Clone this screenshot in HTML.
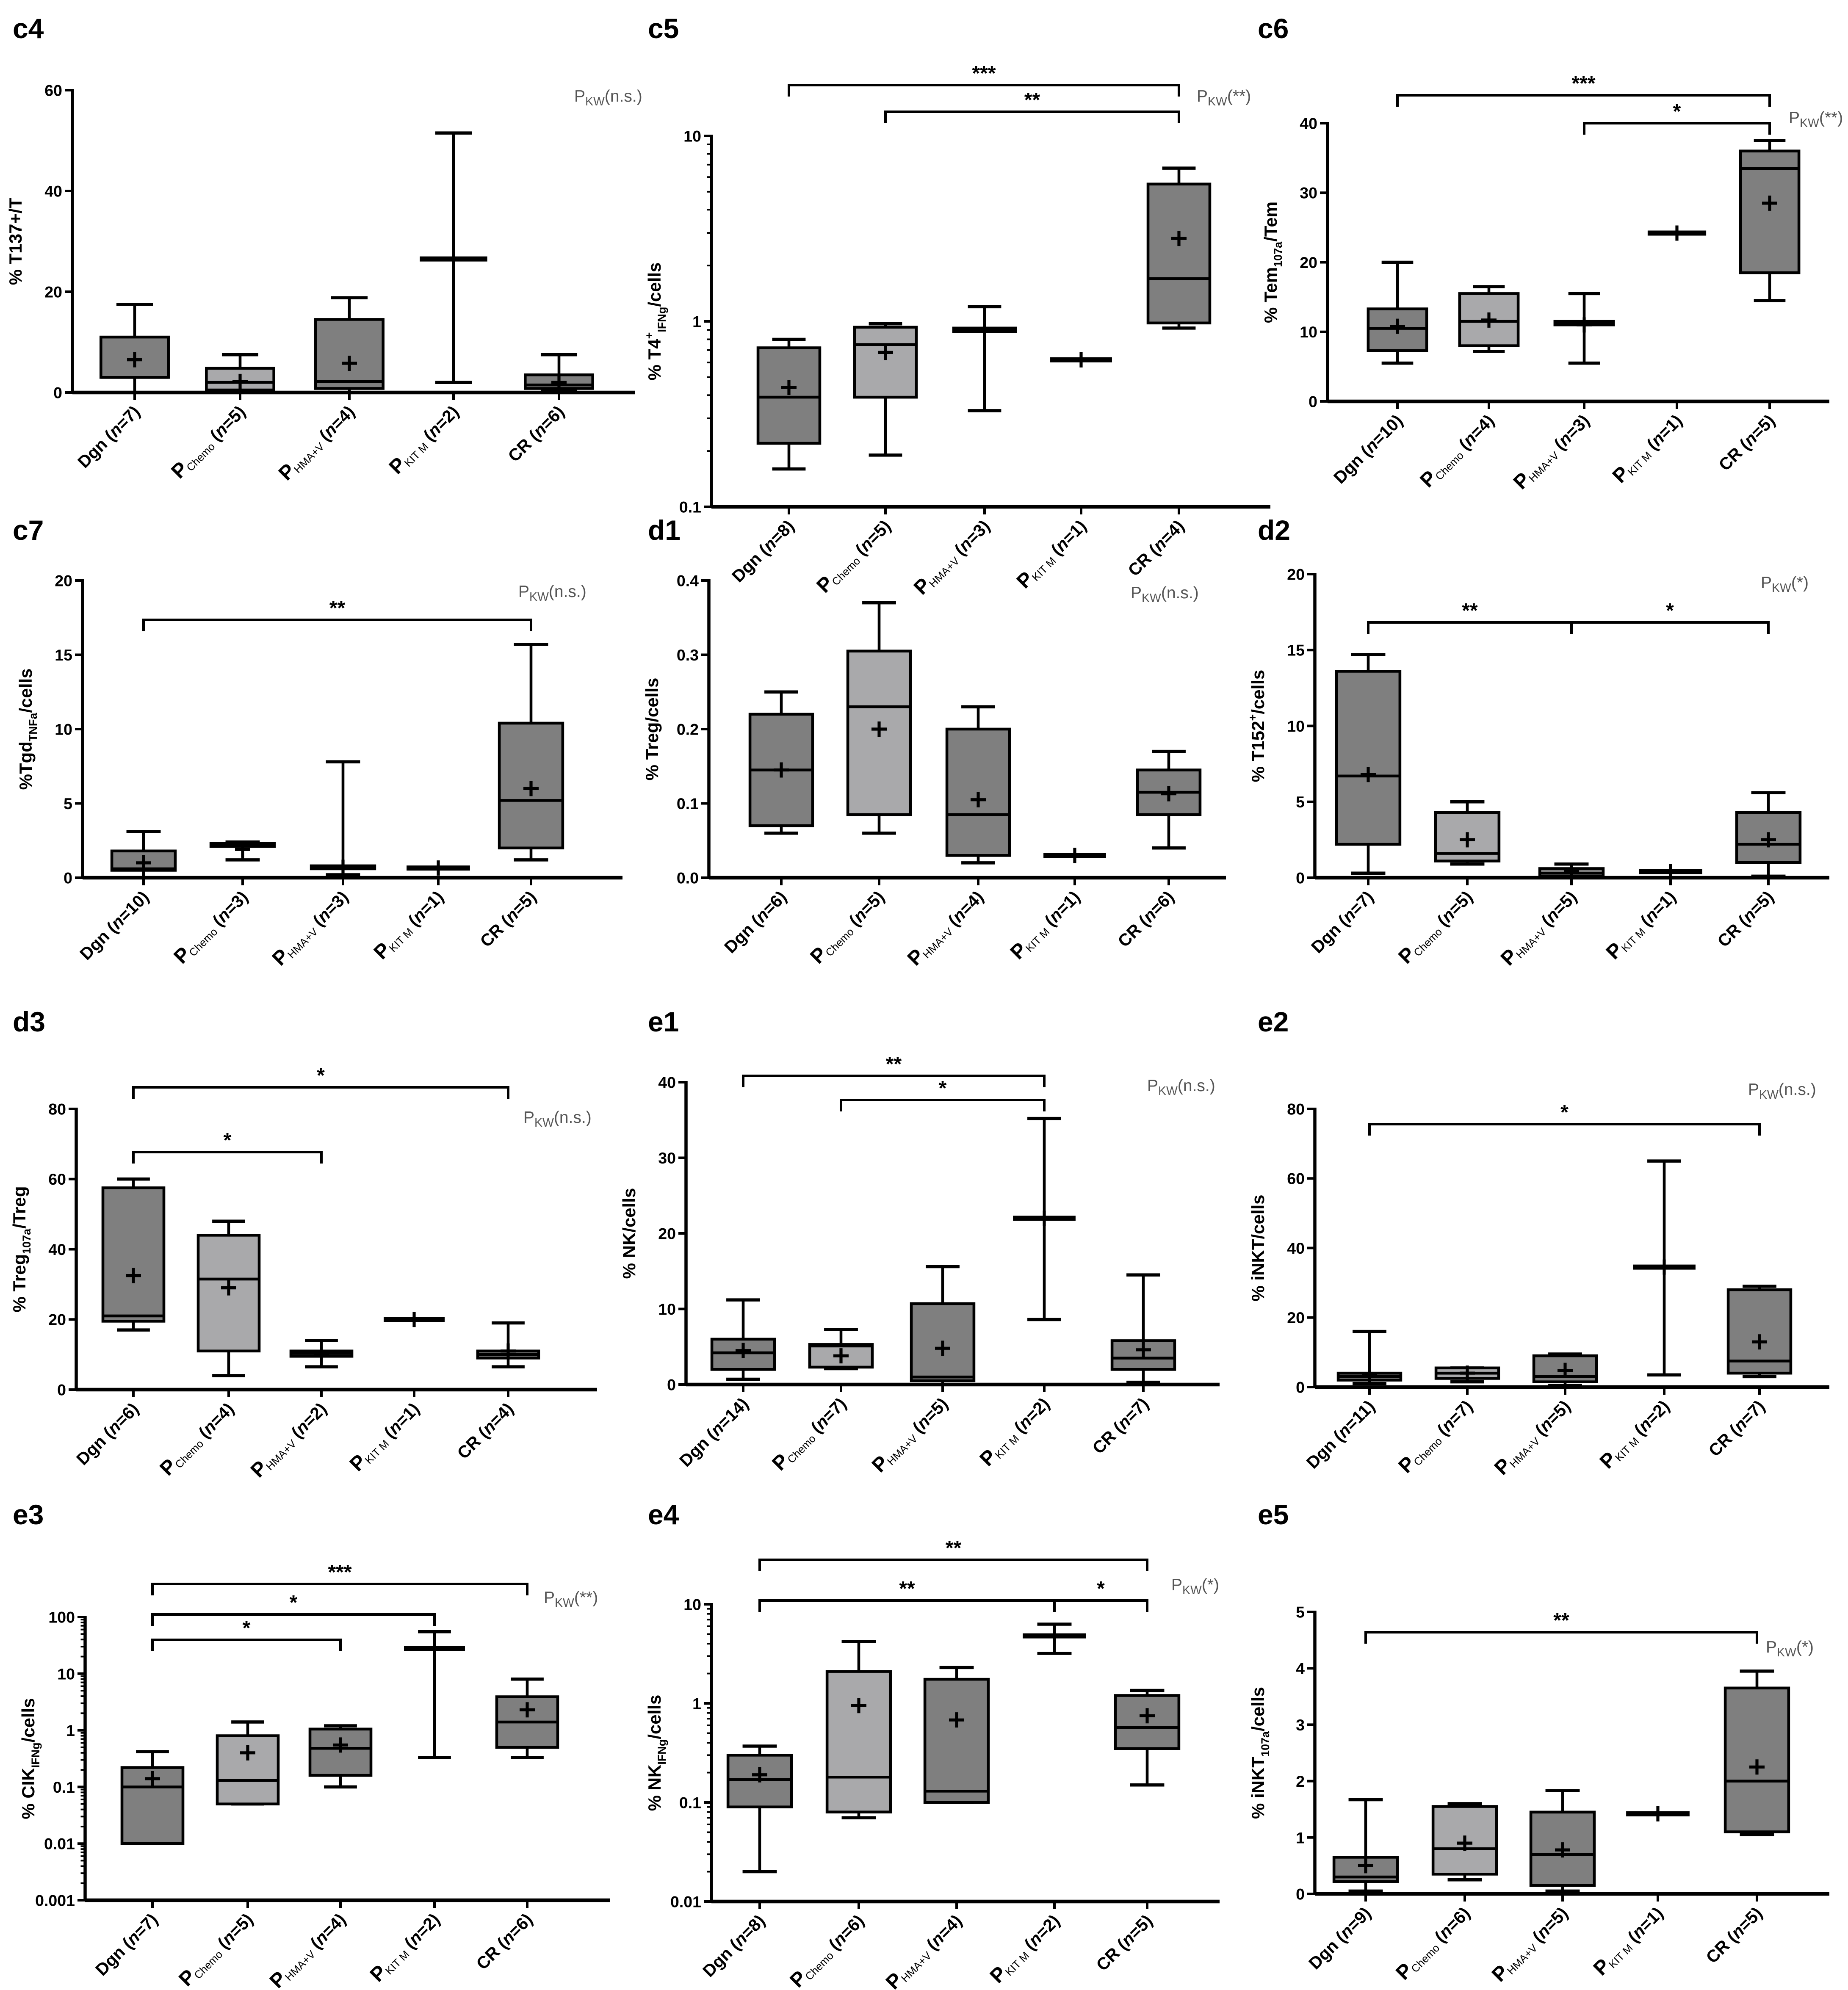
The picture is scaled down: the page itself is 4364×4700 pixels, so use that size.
<!DOCTYPE html>
<html><head><meta charset="utf-8"><style>
html,body{margin:0;padding:0;background:#fff;}
svg{display:block;}
text{font-family:"Liberation Sans",sans-serif;}
</style></head><body>
<svg id="fig" width="4364" height="4700" viewBox="0 0 1454.67 1566.67" xmlns="http://www.w3.org/2000/svg"></svg>
<script>
// ---- data: [min, q1, median, q3, max, mean] per group ----
const groupNames = ['Dgn','Chemo','HMA+V','KIT M','CR'];
const c4N=[7,5,4,2,6];  const c4Box=[[0,3,3,11,17.5,6.5],[0.3,0.5,2,4.8,7.5,2.2],[0,0.8,2.2,14.5,18.8,5.8],[2,26.5,26.5,26.5,51.5,26.5],[0.5,0.8,1.5,3.5,7.5,2]];
const c5N=[8,5,3,1,4];  const c5Box=[[0.16,0.22,0.39,0.72,0.8,0.44],[0.19,0.39,0.75,0.93,0.97,0.68],[0.33,0.88,0.9,0.92,1.2,0.9],[0.62,0.62,0.62,0.62,0.62,0.62],[0.92,0.98,1.7,5.5,6.7,2.8]];
const c6N=[10,4,3,1,5]; const c6Box=[[5.5,7.3,10.5,13.3,20,10.8],[7.2,8,11.5,15.5,16.5,11.7],[5.5,11,11.3,11.5,15.5,11],[24.2,24.2,24.2,24.2,24.2,24.2],[14.5,18.5,33.5,36,37.5,28.5]];
const c7N=[10,3,3,1,5]; const c7Box=[[0,0.5,0.6,1.8,3.1,1],[1.2,2.1,2.2,2.3,2.4,1.9],[0.2,0.6,0.7,0.8,7.8,0.7],[0.65,0.65,0.65,0.65,0.65,0.65],[1.2,2,5.2,10.4,15.7,6]];
const d1N=[6,5,4,1,6];  const d1Box=[[0.06,0.07,0.145,0.22,0.25,0.145],[0.06,0.085,0.23,0.305,0.37,0.2],[0.02,0.03,0.085,0.2,0.23,0.105],[0.03,0.03,0.03,0.03,0.03,0.03],[0.04,0.085,0.115,0.145,0.17,0.113]];
const d2N=[7,5,5,1,5];  const d2Box=[[0.3,2.2,6.7,13.6,14.7,6.8],[0.9,1.1,1.6,4.3,5,2.5],[0,0.1,0.3,0.6,0.9,0.4],[0.4,0.4,0.4,0.4,0.4,0.4],[0.1,1,2.2,4.3,5.6,2.5]];
const d3N=[6,4,2,1,4];  const d3Box=[[17,19.5,21,57.5,60,32.5],[4,11,31.5,44,48,29],[6.5,9.5,10.3,11,14,10],[20,20,20,20,20,20],[6.5,9,10,11,19,11]];
const e1N=[14,7,5,2,7]; const e1Box=[[0.7,2,4.2,6,11.2,4.5],[2.1,2.3,5.1,5.3,7.3,3.8],[0,0.5,1,10.7,15.6,4.8],[8.6,22,22,22,35.2,22],[0.3,2,3.5,5.8,14.5,4.6]];
const e2N=[11,7,5,2,7]; const e2Box=[[1,2,3,4,16,3.5],[1.5,2.5,4,5.5,5.5,4],[0.5,1.5,3,9,9.5,4.8],[3.5,34.5,34.5,34.5,65,34.5],[3,4,7.5,28,29,13]];
const e3N=[7,5,4,2,6];  const e3Box=[[0.01,0.01,0.1,0.22,0.42,0.14],[0.05,0.05,0.13,0.8,1.4,0.4],[0.1,0.16,0.48,1.05,1.2,0.55],[0.33,28,28,28,55,28],[0.33,0.5,1.4,3.9,8,2.3]];
const e4N=[8,6,4,2,5];  const e4Box=[[0.02,0.09,0.17,0.3,0.37,0.19],[0.07,0.08,0.18,2.1,4.2,0.95],[0.1,0.1,0.13,1.75,2.3,0.68],[3.2,4.8,4.8,4.8,6.3,4.8],[0.15,0.35,0.57,1.2,1.35,0.75]];
const e5N=[9,6,5,1,5];  const e5Box=[[0.05,0.22,0.3,0.65,1.67,0.5],[0.25,0.35,0.8,1.55,1.6,0.9],[0.05,0.15,0.7,1.45,1.83,0.78],[1.42,1.42,1.42,1.42,1.42,1.42],[1.05,1.1,2,3.65,3.95,2.25]];
// tick labels
const c4Ticks=[0,20,40,60]; const c5Ticks=[0.1,1,10]; const c6Ticks=[0,10,20,30,40];
const c7Ticks=[0,5,10,15,20]; const d1Ticks=[0,0.1,0.2,0.3,0.4]; const d1TickLabels=['0.0','0.1','0.2','0.3','0.4'];
const d2Ticks=[0,5,10,15,20]; const d3Ticks=[0,20,40,60,80]; const e1Ticks=[0,10,20,30,40];
const e2Ticks=[0,20,40,60,80]; const e3Ticks=[0.001,0.01,0.1,1,10,100]; const e4Ticks=[0.01,0.1,1,10]; const e5Ticks=[0,1,2,3,4,5];
// significance brackets: [fromGroup, toGroup, stars]
const c5Sig=[[0,4,'***'],[1,4,'**']]; const c6Sig=[[0,4,'***'],[2,4,'*']]; const c7Sig=[[0,4,'**']];
const d2Sig=[[0,2,'**'],[2,4,'*']]; const d3Sig=[[0,4,'*'],[0,2,'*']]; const e1Sig=[[0,3,'**'],[1,3,'*']];
const e2Sig=[[0,4,'*']]; const e3Sig=[[0,4,'***'],[0,3,'*'],[0,2,'*']]; const e4Sig=[[0,4,'**'],[0,3,'**'],[3,4,'*']]; const e5Sig=[[0,4,'**']];

// ---- layout ----
const panels=[
 {id:'c4',t:[10,30],ax:57,yT:71,yB:309,xE:500,cx:[106,189,275,357,440],ticks:c4Ticks,box:c4Box,n:c4N,sig:[],sigY:[],yl:['% T137+/T'],kw:[452,80,'(n.s.)']},
 {id:'c5',t:[510,30],ax:560,yT:107,yB:399,xE:1000,cx:[621,697,775,851,928],ticks:c5Ticks,log:1,box:c5Box,n:c5N,sig:c5Sig,sigY:[67,88],yl:['% T4',['+','sup'],['IFNg','sub'],'/cells'],kw:[942,80,'(**)']},
 {id:'c6',t:[990,30],ax:1045,yT:97,yB:316,xE:1440,cx:[1100,1172,1247,1320,1393],ticks:c6Ticks,box:c6Box,n:c6N,sig:c6Sig,sigY:[75,97],yl:['% Tem',['107a','sub'],'/Tem'],kw:[1408,97,'(**)']},
 {id:'c7',t:[10,425],ax:65,yT:457,yB:691,xE:490,cx:[113,191,270,345,418],ticks:c7Ticks,box:c7Box,n:c7N,sig:c7Sig,sigY:[488],yl:['%Tgd',['TNFa','sub'],'/cells'],kw:[408,470,'(n.s.)']},
 {id:'d1',t:[510,425],ax:558,yT:457,yB:691,xE:965,cx:[615,692,770,846,920],ticks:d1Ticks,tl:d1TickLabels,box:d1Box,n:d1N,sig:[],sigY:[],yl:['% Treg/cells'],kw:[890,471,'(n.s.)']},
 {id:'d2',t:[990,425],ax:1035,yT:452,yB:691,xE:1440,cx:[1077,1155,1237,1315,1392],ticks:d2Ticks,box:d2Box,n:d2N,sig:d2Sig,sigY:[490,490],yl:['% T152',['+','sup'],'/cells'],kw:[1386,463,'(*)']},
 {id:'d3',t:[10,812],ax:60,yT:873,yB:1094,xE:470,cx:[105,180,253,326,400],ticks:d3Ticks,box:d3Box,n:d3N,sig:d3Sig,sigY:[856,907],yl:['% Treg',['107a','sub'],'/Treg'],kw:[412,884,'(n.s.)']},
 {id:'e1',t:[510,812],ax:540,yT:852,yB:1090,xE:960,cx:[585,662,742,822,900],ticks:e1Ticks,box:e1Box,n:e1N,sig:e1Sig,sigY:[847,866],yl:['% NK/cells'],kw:[903,859,'(n.s.)']},
 {id:'e2',t:[990,812],ax:1035,yT:873,yB:1092,xE:1440,cx:[1078,1155,1232,1310,1385],ticks:e2Ticks,box:e2Box,n:e2N,sig:e2Sig,sigY:[885],yl:['% iNKT/cells'],kw:[1376,862,'(n.s.)']},
 {id:'e3',t:[10,1200],ax:67,yT:1273,yB:1496,xE:480,cx:[120,195,268,342,415],ticks:e3Ticks,log:1,box:e3Box,n:e3N,sig:e3Sig,sigY:[1247,1271,1291],yl:['% CIK',['IFNg','sub'],'/cells'],kw:[428,1262,'(**)']},
 {id:'e4',t:[510,1200],ax:560,yT:1263,yB:1497,xE:960,cx:[598,676,753,830,903],ticks:e4Ticks,log:1,box:e4Box,n:e4N,sig:e4Sig,sigY:[1228,1260,1260],yl:['% NK',['IFNg','sub'],'/cells'],kw:[922,1252,'(*)']},
 {id:'e5',t:[990,1200],ax:1035,yT:1269,yB:1491,xE:1440,cx:[1075,1153,1230,1305,1383],ticks:e5Ticks,box:e5Box,n:e5N,sig:e5Sig,sigY:[1285],yl:['% iNKT',['107a','sub'],'/cells'],kw:[1390,1301,'(*)']},
];
const NS='http://www.w3.org/2000/svg';
const svg=document.getElementById('fig');
function mk(tag,attrs,parent){const e=document.createElementNS(NS,tag);for(const k in attrs)e.setAttribute(k,attrs[k]);(parent||svg).appendChild(e);return e;}

panels.forEach(p=>{
 const g=mk('g',{});
 
 
 const t0=p.ticks[0],tN=p.ticks[p.ticks.length-1];
 const y=v=>{ if(p.log){const a=Math.log10(t0),b=Math.log10(tN);return p.yB+(Math.log10(v)-a)/(b-a)*(p.yT-p.yB);} return p.yB+(v-t0)/(tN-t0)*(p.yT-p.yB);};
 const tt=mk('text',{x:p.t[0],y:p.t[1],'font-size':22,'font-weight':'bold'},g);tt.textContent=p.id;
 
 
 const ya=mk('line',{x1:p.ax,y1:p.yT-1,x2:p.ax,y2:p.yB,stroke:'#000','stroke-width':2.5},g);
 
 
 const xa=mk('line',{x1:p.ax,y1:p.yB,x2:p.xE,y2:p.yB,stroke:'#000','stroke-width':2.8},g);
 
 
 p.ticks.forEach((v,i)=>{
  mk('line',{x1:p.ax-6,y1:y(v),x2:p.ax,y2:y(v),stroke:'#000','stroke-width':2},g);
  const tl=mk('text',{x:p.ax-8,y:y(v)+4.5,'font-size':12.5,'font-weight':'bold','text-anchor':'end'},g);
  tl.textContent=p.tl?p.tl[i]:String(v);
  
  
  if(p.log&&i<p.ticks.length-1){for(let m=2;m<10;m++)mk('line',{x1:p.ax-3.5,y1:y(v*m),x2:p.ax,y2:y(v*m),stroke:'#000','stroke-width':1.3},g);}
 });
 const ym=(p.yT+p.yB)/2;
 const yt=mk('text',{transform:`translate(${p.ax-40},${ym}) rotate(-90)`,'font-size':14,'font-weight':'bold','text-anchor':'middle'},g);
 
 
 p.yl.forEach(s=>{const ts=mk('tspan',{},yt);
  if(typeof s==='string')ts.textContent=s;
  else{ts.textContent=s[0];ts.setAttribute('font-size',9);ts.setAttribute('dy',s[1]==='sub'?4:-6);
   const r=mk('tspan',{dy:s[1]==='sub'?-4:6,'font-size':14},yt);r.textContent='\u200b';}});
 const kw=mk('text',{x:p.kw[0],y:p.kw[1],'font-size':13,fill:'#555'},g);
 
 
 const k1=mk('tspan',{},kw);k1.textContent='P';
 const k2=mk('tspan',{'font-size':9.5,dy:3},kw);k2.textContent='KW';
 const k3=mk('tspan',{dy:-3},kw);k3.textContent=p.kw[2];
 const sp=p.cx[1]-p.cx[0], bw=sp*0.64;
 p.box.forEach((d,i)=>{
  const cx=p.cx[i];
  const bg=mk('g',{},g);
  
  
  mk('line',{x1:cx,y1:p.yB,x2:cx,y2:p.yB+6,stroke:'#000','stroke-width':2},g);
  const [mn,q1,md,q3,mx,mean]=d;
  mk('line',{x1:cx,y1:y(mn),x2:cx,y2:y(mx),stroke:'#000','stroke-width':2.2},bg);
  [mn,mx].forEach(v=>mk('line',{x1:cx-bw*0.27,y1:y(v),x2:cx+bw*0.27,y2:y(v),stroke:'#000','stroke-width':2.5},bg));
  if(q3>q1){
   mk('rect',{x:cx-bw/2,y:y(q3),width:bw,height:Math.max(1,y(q1)-y(q3)),fill:i===1?'#a9a9ab':'#7f7f7f',stroke:'#000','stroke-width':2.2},bg);
   mk('line',{x1:cx-bw/2,y1:y(md),x2:cx+bw/2,y2:y(md),stroke:'#000','stroke-width':2.2},bg);
  } else {
   mk('line',{x1:cx-bw/2,y1:y(md),x2:cx+bw/2,y2:y(md),stroke:'#000','stroke-width':4},bg);
  }
  const my=y(mean);
  mk('path',{d:`M${cx-6} ${my}H${cx+6}M${cx} ${my-6}V${my+6}`,stroke:'#000','stroke-width':2.4,fill:'none'},bg);
  const lb=mk('text',{transform:`translate(${cx+5},${p.yB+16}) rotate(-45)`,'font-size':13.5,'font-weight':'bold','text-anchor':'end'},g);
  
  
  if(i===0||i===4){const a=mk('tspan',{},lb);a.textContent=groupNames[i]+' (';}
  else{const a=mk('tspan',{'font-size':16},lb);a.textContent='P';
   const b=mk('tspan',{'font-size':8.5,'font-weight':'normal',dy:2},lb);b.textContent=groupNames[i];
   const c=mk('tspan',{dy:-2},lb);c.textContent=' (';}
  const ni=mk('tspan',{'font-style':'italic'},lb);ni.textContent='n';
  const ne=mk('tspan',{},lb);ne.textContent='='+p.n[i]+')';
 });
 p.sig.forEach((s,j)=>{
  const yy=p.sigY[j],x1=p.cx[s[0]],x2=p.cx[s[1]];
  const bk=mk('g',{},g);
  
  
  mk('path',{d:`M${x1} ${yy+9}V${yy}H${x2}V${yy+9}`,stroke:'#000','stroke-width':2,fill:'none'},bk);
  const st=mk('text',{x:(x1+x2)/2,y:yy-4,'font-size':16,'font-weight':'bold','text-anchor':'middle'},bk);
  st.textContent=s[2];
 });
});
</script>
</body></html>
